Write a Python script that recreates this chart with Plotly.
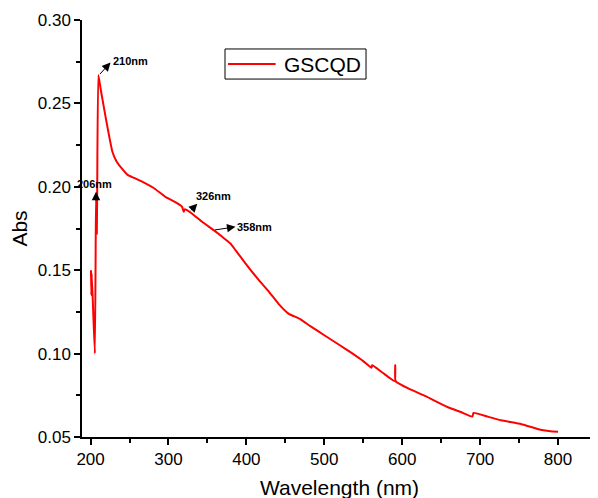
import plotly.graph_objects as go

wavelength = [200.5, 201, 201.5, 205.5, 207, 208, 208.5, 210, 213, 216, 220, 224, 228,
              233, 240, 248, 256, 268, 281, 296, 310, 317.5, 319.5, 321, 330, 343, 358,
              369, 379.5, 386, 399, 416, 429, 441, 454, 469, 482, 500, 520, 533, 550,
              560.5, 561.5, 575, 590.5, 591, 591.5, 609, 630, 658, 675, 690, 691.5,
              710, 727, 753, 779, 790, 800]
absorbance = [0.150, 0.135, 0.148, 0.100, 0.196, 0.172, 0.197, 0.267, 0.2585, 0.2505,
              0.240, 0.230, 0.221, 0.2155, 0.211, 0.207, 0.2053, 0.2027, 0.1993, 0.194,
              0.1905, 0.188, 0.185, 0.1865, 0.184, 0.179, 0.174, 0.170, 0.166, 0.162,
              0.154, 0.144, 0.137, 0.130, 0.124, 0.1207, 0.1165, 0.111, 0.105, 0.101,
              0.0955, 0.0915, 0.093, 0.0885, 0.0835, 0.093, 0.0835, 0.0788, 0.0745, 0.068,
              0.065, 0.0622, 0.0644, 0.0622, 0.060, 0.0577, 0.0542, 0.0535, 0.0532]

series_name = "GSCQD"
x_ticks = [200, 300, 400, 500, 600, 700, 800]
y_ticks = [0.05, 0.10, 0.15, 0.20, 0.25, 0.30]

# annotations: label, curve point (tail), arrow head, text position, anchor
peak_labels = ["210nm", "206nm", "326nm", "358nm"]
peak_tail = [(210.3, 0.2667), (207.0, 0.191), (327.0, 0.185), (357.7, 0.174)]
peak_head = [(225.6, 0.2745), (207.0, 0.197), (337.0, 0.1899), (386.0, 0.176)]
peak_text = [(225.6, 0.2752), (205.0, 0.2014), (333.0, 0.1943), (386.0, 0.1757)]
peak_anchor = ["left", "center", "left", "left"]

fig = go.Figure()
fig.add_trace(go.Scatter(x=wavelength, y=absorbance, mode="lines", name=series_name,
                         line=dict(color="#ff0000", width=2, shape="spline", smoothing=0.4),
                         showlegend=False))

for lab, t, h, p, anc in zip(peak_labels, peak_tail, peak_head, peak_text, peak_anchor):
    fig.add_annotation(x=h[0], y=h[1], ax=t[0], ay=t[1], axref="x", ayref="y",
                       xref="x", yref="y", text="", showarrow=True, arrowhead=2,
                       arrowsize=1.7, arrowwidth=1, arrowcolor="black", standoff=0,
                       startstandoff=0)
    fig.add_annotation(x=p[0], y=p[1], xref="x", yref="y", text="<b>" + lab + "</b>",
                       showarrow=False, xanchor=anc, yanchor="middle",
                       font=dict(family="Liberation Sans, Arial", size=11, color="black"))

# legend box drawn in paper coordinates
lx0, lx1, ly0, ly1 = 0.2777, 0.5515, 0.8584, 0.9305
fig.add_shape(type="rect", xref="paper", yref="paper", x0=lx0, x1=lx1, y0=ly0, y1=ly1,
              line=dict(color="black", width=1), fillcolor="white", layer="above")
fig.add_shape(type="line", xref="paper", yref="paper", x0=0.2835, x1=0.376,
              y0=(ly0 + ly1) / 2, y1=(ly0 + ly1) / 2,
              line=dict(color="#ff0000", width=2), layer="above")
fig.add_annotation(x=0.388, y=(ly0 + ly1) / 2, xref="paper", yref="paper",
                   text=series_name, showarrow=False, xanchor="left", yanchor="middle",
                   font=dict(family="Liberation Sans, Arial", size=21, color="black"))

axis_font = dict(family="Liberation Sans, Arial", size=17, color="black")
fig.update_layout(
    width=598, height=498,
    margin=dict(l=74, r=9, t=12, b=69),
    paper_bgcolor="white", plot_bgcolor="white",
    font=dict(family="Liberation Sans, Arial", color="black"),
    showlegend=False,
    xaxis=dict(range=[189, 850], tickvals=x_ticks, ticks="outside", ticklen=6,
               tickwidth=1.5, tickcolor="black", showline=True, linewidth=1.5,
               linecolor="black", showgrid=False, zeroline=False, tickfont=axis_font,
               automargin=False,
               minor=dict(dtick=50, tick0=150, ticks="outside", ticklen=4, tickwidth=1.5,
                          tickcolor="black", showgrid=False),
               title=dict(text="Wavelength (nm)", standoff=12,
                          font=dict(family="Liberation Sans, Arial", size=21, color="black"))),
    yaxis=dict(range=[0.05, 0.30], tickvals=y_ticks, tickformat=".2f", ticks="outside",
               ticklen=6, tickwidth=1.5, tickcolor="black", showline=True, linewidth=1.5,
               linecolor="black", showgrid=False, zeroline=False, tickfont=axis_font,
               automargin=False,
               minor=dict(dtick=0.025, tick0=0.025, ticks="outside", ticklen=4,
                          tickwidth=1.5, tickcolor="black", showgrid=False),
               title=dict(text="Abs", standoff=12,
                          font=dict(family="Liberation Sans, Arial", size=21, color="black"))),
)

fig.write_html("out.html")
